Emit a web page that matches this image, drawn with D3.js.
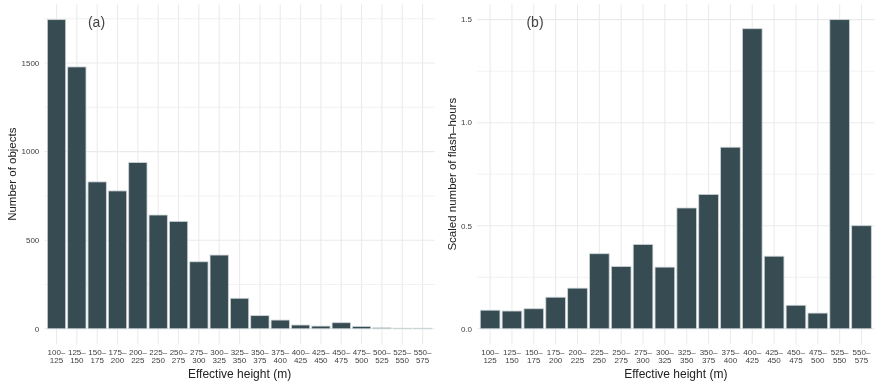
<!DOCTYPE html>
<html>
<head>
<meta charset="utf-8">
<script src="https://cdn.jsdelivr.net/npm/d3@7"></script>
<style>
  body { margin: 0; background: #fff; }
  svg { display: block; will-change: transform; }
  text { font-family: "Liberation Sans", Arial, sans-serif; }
</style>
</head>
<body>
<main></main>
<script>
// categories (effective height bins)
const binsA = ["100-125","125-150","150-175","175-200","200-225","225-250","250-275","275-300",
  "300-325","325-350","350-375","375-400","400-425","425-450","450-475","475-500","500-525","525-550","550-575"];
const countsA = [1745, 1478, 829, 778, 938, 642, 606, 378, 416, 172, 74, 49, 21, 15, 34, 13, 5, 3, 3];

const binsB = ["100-125","125-150","150-175","175-200","200-225","225-250","250-275","275-300",
  "300-325","325-350","350-375","375-400","400-425","425-450","450-475","475-500","525-550","550-575"];
const flashB = [0.09, 0.086, 0.097, 0.153, 0.197, 0.364, 0.302, 0.409, 0.299, 0.586, 0.652, 0.881,
  1.456, 0.352, 0.114, 0.076, 1.5, 0.5];

const ticksA = [0, 500, 1000, 1500];
const minorA = [250, 750, 1250, 1750];
const ticksB = [0, 0.5, 1.0, 1.5];
const minorB = [0.25, 0.75, 1.25];

const width = 880, height = 387;
const svg = d3.select("main").append("svg")
  .attr("width", width)
  .attr("height", height);

function drawPanel(cfg) {
  const x = d3.scaleBand()
    .domain(cfg.bins)
    .range([cfg.left, cfg.right])
    .paddingInner(0.1)
    .paddingOuter(0.15);
  const ymax = d3.max(cfg.values);
  const y = d3.scaleLinear()
    .domain([-0.05 * ymax, 1.05 * ymax])
    .range([cfg.bottom, cfg.top]);

  const g = svg.append("g");

  // minor grid
  g.selectAll(".minor")
    .data(cfg.minor.filter(v => v <= 1.05 * ymax))
    .enter().append("line")
    .attr("x1", cfg.left).attr("x2", cfg.right)
    .attr("y1", d => y(d)).attr("y2", d => y(d))
    .attr("stroke", "#f2f2f2").attr("stroke-width", 1);

  // major grid
  g.selectAll(".major")
    .data(cfg.ticks)
    .enter().append("line")
    .attr("x1", cfg.left).attr("x2", cfg.right)
    .attr("y1", d => y(d)).attr("y2", d => y(d))
    .attr("stroke", "#ebebeb").attr("stroke-width", 1.1);

  g.selectAll(".vgrid")
    .data(cfg.bins)
    .enter().append("line")
    .attr("x1", d => x(d) + x.bandwidth() / 2).attr("x2", d => x(d) + x.bandwidth() / 2)
    .attr("y1", cfg.top).attr("y2", cfg.bottom)
    .attr("stroke", "#ebebeb").attr("stroke-width", 1.1);

  // bars
  g.selectAll(".bar")
    .data(cfg.values)
    .enter().append("rect")
    .attr("x", (d, i) => x(cfg.bins[i]))
    .attr("width", x.bandwidth())
    .attr("y", d => y(d))
    .attr("height", d => y(0) - y(d))
    .attr("fill", "#364b52")
    .attr("stroke", "#cdd4d7")
    .attr("stroke-width", 0.8);

  // y tick labels
  g.selectAll(".ytick")
    .data(cfg.ticks)
    .enter().append("text")
    .attr("x", cfg.left - 5)
    .attr("y", d => y(d))
    .attr("dy", "0.35em")
    .attr("text-anchor", "end")
    .attr("font-size", 8)
    .attr("fill", "#404040")
    .text(cfg.fmt);

  // x tick labels (two lines)
  const xt = g.selectAll(".xtick")
    .data(cfg.bins)
    .enter().append("text")
    .attr("text-anchor", "middle")
    .attr("font-size", 8)
    .attr("fill", "#404040");
  xt.append("tspan")
    .attr("x", d => x(d) + x.bandwidth() / 2)
    .attr("y", 354.5)
    .text(d => d.split("-")[0] + "\u2013");
  xt.append("tspan")
    .attr("x", d => x(d) + x.bandwidth() / 2)
    .attr("y", 363.3)
    .text(d => d.split("-")[1]);

  // axis titles
  g.append("text")
    .attr("x", (cfg.left + cfg.right) / 2)
    .attr("y", 378)
    .attr("text-anchor", "middle")
    .attr("font-size", 12)
    .attr("fill", "#222")
    .text("Effective height (m)");

  g.append("text")
    .attr("transform", `translate(${cfg.ytitleX},${(cfg.top + cfg.bottom) / 2}) rotate(-90)`)
    .attr("text-anchor", "middle")
    .attr("font-size", 11.5)
    .attr("fill", "#222")
    .text(cfg.ytitle);

  // panel tag
  g.append("text")
    .attr("x", cfg.tagX)
    .attr("y", 27)
    .attr("text-anchor", "middle")
    .attr("font-size", 14)
    .attr("font-family", "'Open Sans', sans-serif")
    .attr("font-weight", 300)
    .attr("fill", "#444")
    .text(cfg.tag);
}

drawPanel({
  bins: binsA, values: countsA, ticks: ticksA, minor: minorA,
  left: 44.3, right: 434.8, top: 4.2, bottom: 344.2,
  fmt: d => d, ytitle: "Number of objects", ytitleX: 16,
  tag: "(a)", tagX: 96.5
});

drawPanel({
  bins: binsB, values: flashB, ticks: ticksB, minor: minorB,
  left: 477, right: 874.6, top: 4.2, bottom: 344.2,
  fmt: d => d3.format(".1f")(d), ytitle: "Scaled number of flash\u2013hours", ytitleX: 456,
  tag: "(b)", tagX: 535
});
</script>
</body>
</html>
